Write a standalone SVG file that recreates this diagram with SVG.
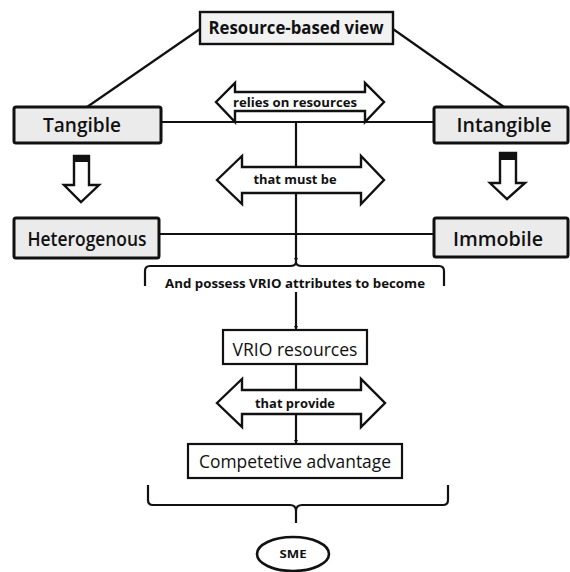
<svg xmlns="http://www.w3.org/2000/svg" width="570" height="572" viewBox="0 0 570 572">
<style>
.ln{stroke:#111;stroke-width:2.2;fill:none}
.box{fill:#ebebeb;stroke:#111;stroke-width:3}
.wbox{fill:#fff;stroke:#111;stroke-width:2.2}
.dbl{fill:#fff;stroke:#111;stroke-width:2.4;stroke-linejoin:miter}
.blk{fill:#fff;stroke:#111;stroke-width:2.4}
.t{font-family:"Open Sans","DejaVu Sans",sans-serif;fill:#111;text-anchor:middle}
.big{font-size:19px;font-weight:600}
.bold{font-weight:700}
</style>
<defs>
<marker id="ah" viewBox="0 0 10 10" refX="10" refY="5" markerWidth="4" markerHeight="4" orient="auto" markerUnits="userSpaceOnUse">
<path d="M0,0 L10,5 L0,10 Z" fill="#111"/>
</marker>
</defs>
<rect width="570" height="572" fill="#fff"/>
<g id="connectors">
<line class="ln" x1="200" y1="29" x2="87" y2="107"/>
<line class="ln" x1="393" y1="29" x2="504" y2="107"/>
<line class="ln" x1="161" y1="122" x2="434" y2="122"/>
<line class="ln" x1="159" y1="234" x2="434" y2="234"/>
<line class="ln" x1="296" y1="122" x2="296" y2="262" marker-end="url(#ah)"/>
<line class="ln" x1="296" y1="292" x2="296" y2="330" marker-end="url(#ah)"/>
<line class="ln" x1="296" y1="364" x2="296" y2="390"/>
<line class="ln" x1="296" y1="414" x2="296" y2="444" marker-end="url(#ah)"/>
<path class="ln" stroke-width="2.6" d="M145,286 L145,271 Q145,266 150,266 L290,266 Q296,266 296,262 Q296,266 302,266 L439,266 Q444,266 444,271 L444,286"/>
<path class="ln" stroke-width="2.6" d="M148,485 L148,500 Q148,505 153,505 L290,505 Q296,505 296,511 L296,523 M296,511 Q296,505 302,505 L443,505 Q448,505 448,500 L448,485"/>
</g>
<g id="rbv">
<rect x="200" y="12" width="193" height="32" fill="#f2f2f2" stroke="#111" stroke-width="2.4"/>
<text class="t bold" x="296" y="34" font-size="17" textLength="175" lengthAdjust="spacingAndGlyphs">Resource-based view</text>
</g>
<g id="relies">
<path class="dbl" d="M216,102 L235,83 L235,92 L365,92 L365,83 L384,102 L365,122 L365,111 L235,111 L235,122 Z"/>
<text class="t bold" x="295" y="106.5" font-size="13" textLength="124" lengthAdjust="spacingAndGlyphs">relies on resources</text>
</g>
<g id="tangible">
<rect class="box" x="14" y="107" width="147" height="36" rx="2"/>
<text class="t big" x="82" y="131.5" textLength="78" lengthAdjust="spacingAndGlyphs">Tangible</text>
</g>
<g id="intangible">
<rect class="box" x="434" y="107" width="134" height="36" rx="2"/>
<text class="t big" x="504" y="131.5" textLength="95" lengthAdjust="spacingAndGlyphs">Intangible</text>
</g>
<g id="arrow-left">
<path class="blk" d="M74,156 L89,156 L89,185 L99,185 L81,202 L64,185 L74,185 Z"/>
<rect x="74" y="156" width="15" height="6" fill="#111"/>
</g>
<g id="arrow-right">
<path class="blk" d="M500,153 L516,153 L516,183 L525,183 L507,199 L490,183 L500,183 Z"/>
<rect x="500" y="153" width="16" height="7" fill="#111"/>
</g>
<g id="mustbe">
<path class="dbl" d="M217,180 L242,156 L242,167 L361,167 L361,156 L384,180 L361,204 L361,193 L242,193 L242,204 Z"/>
<text class="t bold" x="295" y="183.5" font-size="13" textLength="83" lengthAdjust="spacingAndGlyphs">that must be</text>
</g>
<g id="heterogenous">
<rect class="box" x="14" y="218" width="145" height="40" rx="2"/>
<text class="t big" x="87" y="245.5" textLength="119" lengthAdjust="spacingAndGlyphs">Heterogenous</text>
</g>
<g id="immobile">
<rect class="box" x="434" y="218" width="134" height="39" rx="2"/>
<text class="t big" x="498" y="245.5" textLength="90" lengthAdjust="spacingAndGlyphs">Immobile</text>
</g>
<g id="possess">
<text class="t bold" x="295" y="288" font-size="12" textLength="260" lengthAdjust="spacingAndGlyphs">And possess VRIO attributes to become</text>
</g>
<g id="vrio">
<rect class="wbox" x="223" y="330" width="144" height="34"/>
<text class="t" x="295" y="356" font-size="18" font-weight="500" textLength="125" lengthAdjust="spacingAndGlyphs">VRIO resources</text>
</g>
<g id="provide">
<path class="dbl" d="M217,403 L242,379 L242,390 L361,390 L361,379 L385,403 L361,427 L361,414 L242,414 L242,427 Z"/>
<text class="t bold" x="295" y="407.5" font-size="13" textLength="80" lengthAdjust="spacingAndGlyphs">that provide</text>
</g>
<g id="competitive">
<rect class="wbox" x="188" y="444" width="214" height="34"/>
<text class="t" x="295" y="468" font-size="18" font-weight="500" textLength="192" lengthAdjust="spacingAndGlyphs">Competetive advantage</text>
</g>
<g id="sme">
<ellipse cx="293" cy="554" rx="36" ry="17" fill="#fff" stroke="#111" stroke-width="2.6"/>
<text class="t bold" x="293" y="557.5" font-size="10" textLength="27" lengthAdjust="spacingAndGlyphs">SME</text>
</g>
</svg>
